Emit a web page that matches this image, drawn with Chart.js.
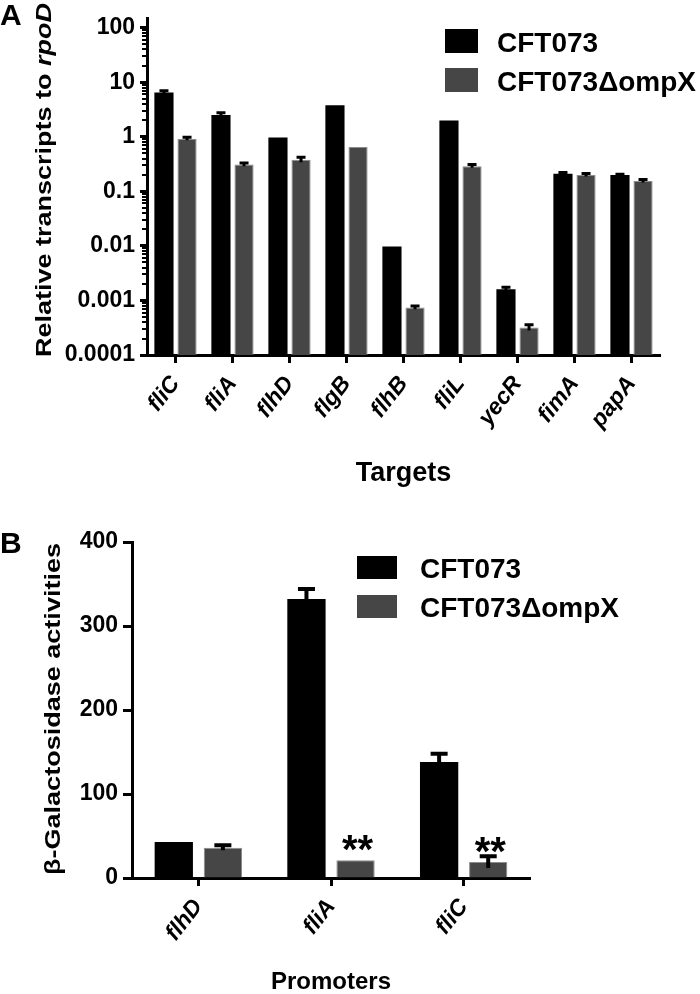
<!DOCTYPE html>
<html><head><meta charset="utf-8">
<script src="https://cdn.jsdelivr.net/npm/chart.js@4/dist/chart.umd.min.js"></script>
<style>html,body{margin:0;padding:0;background:#fff}canvas{display:block}</style>
</head><body>
<canvas id="a" width="700" height="497"></canvas>
<canvas id="b" width="700" height="497"></canvas>
<script>
// ---------- data ----------
const seriesNames = ['CFT073', 'CFT073\u0394ompX'];

const targets = ['fliC','fliA','flhD','flgB','flhB','fliL','yecR','fimA','papA'];
const wtA  = [6.5, 2.5, 0.97, 3.8, 0.0098, 2.0, 0.0016, 0.21, 0.20];
const mutA = [0.92, 0.31, 0.38, 0.65, 0.00074, 0.29, 0.00032, 0.20, 0.155];
const wtErrA  = [0.5, 0.25, 0, 0, 0, 0, 0.00015, 0.012, 0.006];
const mutErrA = [0.06, 0.02, 0.04, 0, 0.00005, 0.02, 0.00004, 0.012, 0.01];
const yTickValsA   = [0.0001, 0.001, 0.01, 0.1, 1, 10, 100];
const yTickLabelsA = ['0.0001','0.001','0.01','0.1','1','10','100'];

const promoters = ['flhD','fliA','fliC'];
const wtB  = [43, 332, 138];
const mutB = [36, 21, 19];
const wtErrB  = [0, 12, 10];
const mutErrB = [3, 0, 7];
const sigB = ['', '**', '**'];
const yTickValsB   = [0, 100, 200, 300, 400];
const yTickLabelsB = ['0','100','200','300','400'];

// ---------- style ----------
const F = "'Liberation Sans', Arial, Helvetica, sans-serif";
const BLACK = '#000000', GRAY = '#464646';

// ---------- plugins ----------
const errorBars = {
  id: 'errorBars',
  afterDatasetsDraw(chart, args, o) {
    const ctx = chart.ctx, ys = chart.scales.y;
    chart.data.datasets.forEach((ds, i) => {
      if (!ds.err) return;
      const meta = chart.getDatasetMeta(i);
      meta.data.forEach((bar, j) => {
        const e = ds.err[j]; if (!e) return;
        const v = ds.data[j];
        const top = ys.getPixelForValue(v + e);
        const lv = v - e;
        const bot = lv > 0 ? ys.getPixelForValue(lv) : ys.bottom;
        ctx.save();
        ctx.strokeStyle = '#000'; ctx.lineWidth = o.width; ctx.lineCap = 'butt';
        ctx.beginPath();
        ctx.moveTo(bar.x, bot); ctx.lineTo(bar.x, top - o.width / 2);
        ctx.moveTo(bar.x - o.cap / 2, top); ctx.lineTo(bar.x + o.cap / 2, top);
        ctx.stroke();
        ctx.restore();
      });
    });
  }
};

const boxLegend = {
  id: 'boxLegend',
  afterDraw(chart, args, o) {
    const ctx = chart.ctx;
    ctx.save();
    chart.data.datasets.forEach((ds, i) => {
      const y0 = o.y + i * o.gap;
      ctx.fillStyle = ds.backgroundColor;
      ctx.fillRect(o.x, y0, o.w, o.h);
      ctx.fillStyle = '#000';
      ctx.font = 'bold ' + o.size + 'px ' + F;
      ctx.textBaseline = 'alphabetic'; ctx.textAlign = 'left';
      ctx.fillText(ds.label, o.tx, y0 + o.h - 1);
    });
    ctx.restore();
  }
};

const decor = {
  id: 'decor',
  afterDraw(chart, args, o) {
    const ctx = chart.ctx;
    ctx.save();
    ctx.fillStyle = '#000';
    ctx.font = 'bold 30px ' + F;
    ctx.textBaseline = 'alphabetic'; ctx.textAlign = 'left';
    ctx.fillText(o.letter, o.lx, o.ly);
    ctx.translate(o.tx, o.ty);
    ctx.rotate(-Math.PI / 2);
    let W = 0;
    const widths = o.parts.map(p => {
      ctx.font = (p.italic ? 'italic ' : '') + 'bold ' + o.size + 'px ' + F;
      const w = ctx.measureText(p.t).width; W += w; return w;
    });
    ctx.scale(o.len / W, 1);
    let x = -W / 2;
    o.parts.forEach((p, k) => {
      ctx.font = (p.italic ? 'italic ' : '') + 'bold ' + o.size + 'px ' + F;
      ctx.fillText(p.t, x, 0);
      x += widths[k];
    });
    ctx.restore();
  }
};

const minorLogTicks = {
  id: 'minorLogTicks',
  afterDraw(chart, args, o) {
    if (!o || !o.enabled) return;
    const ctx = chart.ctx, s = chart.scales.y, left = chart.chartArea.left;
    ctx.save();
    ctx.strokeStyle = '#000'; ctx.lineWidth = 2;
    ctx.beginPath();
    for (let n = -4; n <= 2; n++) {
      for (let k = 2; k <= 9; k++) {
        const v = k * Math.pow(10, n);
        if (v > s.max) break;
        const p = Math.round(s.getPixelForValue(v));
        ctx.moveTo(left - 1, p); ctx.lineTo(left - 5, p);
      }
    }
    ctx.stroke();
    ctx.restore();
  }
};

const sigMarks = {
  id: 'sigMarks',
  afterDatasetsDraw(chart, args, o) {
    if (!o || !o.enabled) return;
    const ctx = chart.ctx, ys = chart.scales.y;
    chart.data.datasets.forEach((ds, i) => {
      if (!ds.sig) return;
      const meta = chart.getDatasetMeta(i);
      meta.data.forEach((bar, j) => {
        if (!ds.sig[j]) return;
        ctx.save();
        ctx.fillStyle = '#000';
        ctx.font = 'bold ' + o.size + 'px ' + F;
        ctx.textAlign = 'center'; ctx.textBaseline = 'alphabetic';
        ctx.fillText(ds.sig[j], bar.x + 2, ys.getPixelForValue(ds.data[j]) + o.dy);
        ctx.restore();
      });
    });
  }
};

function axisX(title, titleSize, titlePadBottom, height) {
  return {
    grid: { display: true, offset: false, drawOnChartArea: false, drawTicks: true,
            tickLength: 8, tickWidth: 3, tickColor: '#000' },
    border: { display: true, color: '#000', width: 3 },
    ticks: { color: '#000', font: { family: F, size: 23, weight: 'bold', style: 'italic' },
             minRotation: 52, maxRotation: 52, autoSkip: false, padding: 8 },
    title: { display: true, text: title, color: '#000',
             font: { family: F, size: titleSize, weight: 'bold', lineHeight: 1 },
             padding: { top: 0, bottom: titlePadBottom } },
    afterFit(s) { s.height = height; }
  };
}

// ---------- chart A ----------
new Chart(document.getElementById('a'), {
  type: 'bar',
  data: {
    labels: targets,
    datasets: [
      { label: seriesNames[0], data: wtA, err: wtErrA, backgroundColor: BLACK,
        borderWidth: 0, barPercentage: 0.83, categoryPercentage: 0.81 },
      { label: seriesNames[1], data: mutA, err: mutErrA, backgroundColor: GRAY,
        borderColor: '#8c8c8c', borderWidth: 1, barPercentage: 0.83, categoryPercentage: 0.81 }
    ]
  },
  options: {
    responsive: false, animation: false, devicePixelRatio: 1,
    layout: { padding: { left: 0, top: 15, right: 40, bottom: 0 } },
    plugins: {
      legend: { display: false }, tooltip: { enabled: false },
      errorBars: { width: 3, cap: 9 },
      boxLegend: { x: 445, y: 29, w: 33, h: 24, gap: 39, tx: 497, size: 28 },
      decor: { letter: 'A', lx: 0, ly: 25, tx: 51, ty: 180, size: 22, len: 354,
               parts: [{ t: 'Relative transcripts to ' }, { t: 'rpoD', italic: true }] },
      minorLogTicks: { enabled: true }
    },
    scales: {
      x: axisX('Targets', 27, 10, 142),
      y: {
        type: 'logarithmic', min: 0.0001, max: 145.6, bounds: 'data',
        afterBuildTicks(s) { s.ticks = yTickValsA.map(v => ({ value: v })); },
        ticks: { color: '#000', autoSkip: false, padding: 5,
                 font: { family: F, size: 23, weight: 'bold' },
                 callback: (v) => { const k = yTickValsA.findIndex(t => Math.abs(t - v) / t < 1e-6); return k >= 0 ? yTickLabelsA[k] : ''; } },
        grid: { drawOnChartArea: false, drawTicks: true, tickLength: 7, tickWidth: 3, tickColor: '#000' },
        border: { display: true, color: '#000', width: 3 },
        afterFit(s) { s.width = 147; }
      }
    }
  },
  plugins: [errorBars, boxLegend, decor, minorLogTicks]
});

// ---------- chart B ----------
new Chart(document.getElementById('b'), {
  type: 'bar',
  data: {
    labels: promoters,
    datasets: [
      { label: seriesNames[0], data: wtB, err: wtErrB, backgroundColor: BLACK,
        borderWidth: 0, barPercentage: 0.78, categoryPercentage: 0.74 },
      { label: seriesNames[1], data: mutB, err: mutErrB, sig: sigB, backgroundColor: GRAY,
        borderColor: '#8c8c8c', borderWidth: 1, barPercentage: 0.78, categoryPercentage: 0.74 }
    ]
  },
  options: {
    responsive: false, animation: false, devicePixelRatio: 1,
    layout: { padding: { left: 0, top: 45, right: 170, bottom: 0 } },
    plugins: {
      legend: { display: false }, tooltip: { enabled: false },
      errorBars: { width: 4, cap: 17 },
      boxLegend: { x: 357, y: 59, w: 40, h: 23, gap: 39, tx: 420, size: 28 },
      decor: { letter: 'B', lx: 0, ly: 56, tx: 60, ty: 212, size: 22, len: 332,
               parts: [{ t: '\u03B2-Galactosidase activities' }] },
      sigMarks: { enabled: true, size: 40, dy: 3 }
    },
    scales: {
      x: axisX('Promoters', 24, 0, 116),
      y: {
        type: 'linear', min: 0, max: 400, bounds: 'data',
        afterBuildTicks(s) { s.ticks = yTickValsB.map(v => ({ value: v })); },
        ticks: { color: '#000', autoSkip: false, padding: 5,
                 font: { family: F, size: 23, weight: 'bold' },
                 callback: (v) => { const k = yTickValsB.indexOf(v); return k >= 0 ? yTickLabelsB[k] : ''; } },
        grid: { drawOnChartArea: false, drawTicks: true, tickLength: 9, tickWidth: 3, tickColor: '#000' },
        border: { display: true, color: '#000', width: 3 },
        afterFit(s) { s.width = 132; }
      }
    }
  },
  plugins: [errorBars, boxLegend, decor, sigMarks]
});
</script>
</body></html>
